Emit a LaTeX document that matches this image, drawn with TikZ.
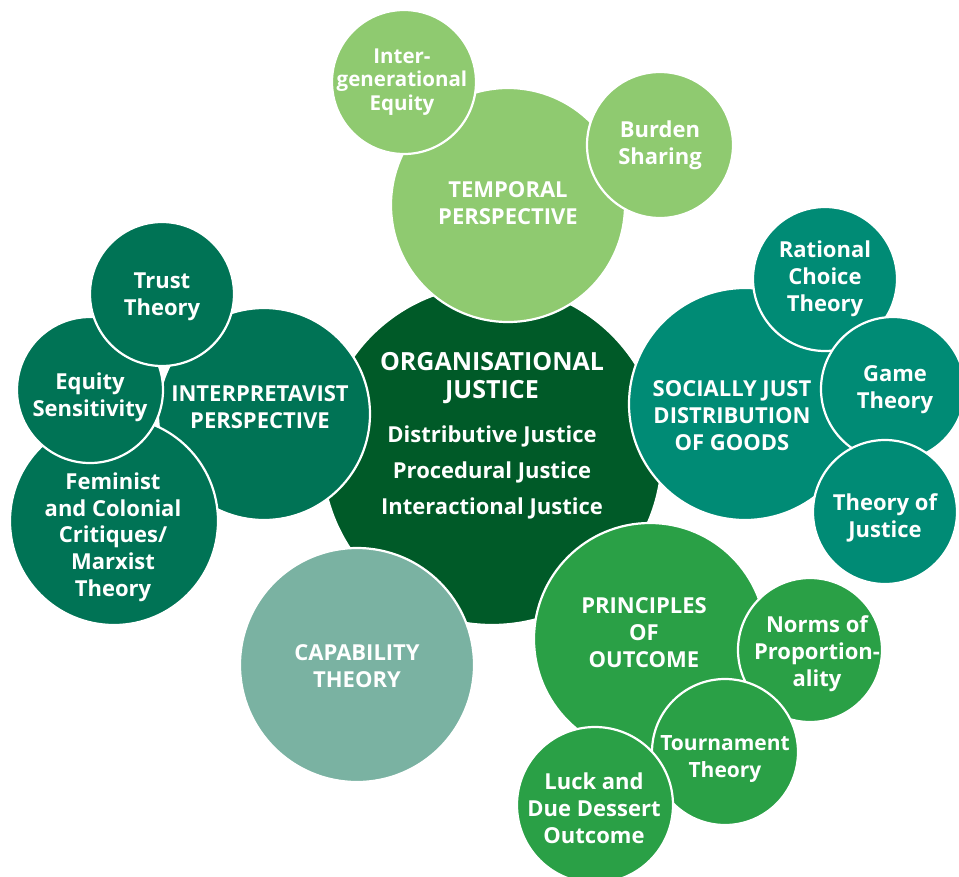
\documentclass[tikz,border=0pt]{standalone}
\usepackage{fontspec}
\setmainfont{Open Sans}
\definecolor{vertfonce}{RGB}{0,90,40}
\definecolor{vertinterp}{RGB}{0,115,85}
\definecolor{vertclair}{RGB}{143,202,112}
\definecolor{vertsocial}{RGB}{0,139,117}
\definecolor{vertprincipe}{RGB}{42,160,70}
\definecolor{vertcapa}{RGB}{122,178,162}

\begin{document}
\begin{tikzpicture}[x=1pt,y=-1pt]
    \tikzstyle{texte}=[text=white, align=center, inner sep=0pt, font=\bfseries\fontsize{22}{27}\selectfont]
    \tikzstyle{titre}=[texte, font=\bfseries\fontsize{22}{27}\selectfont]
\tikzset{bulle/.style={circle,draw=white,line width=2.2pt,fill=#1,inner sep=0pt},
bulle/.default={vertfonce}}
\useasboundingbox (0,0) rectangle (959,876);

\node[bulle, minimum size=340pt] (centre) at (492,455){};
\node[texte, font=\bfseries\fontsize{25}{28}\selectfont] (centre-titre) at (492,378){ORGANISATIONAL\\JUSTICE};
\node[texte, font=\bfseries\fontsize{22}{36}\selectfont] (centre-liste) at (492,472){Distributive Justice\\Procedural Justice\\Interactional Justice};

\node[bulle=vertinterp, minimum size=212pt] (interp) at (264,414){};
\node[titre] (interp-t) at (260,407){INTERPRETAVIST\\PERSPECTIVE};
\node[bulle=vertinterp, minimum size=208pt] (feministe) at (114,521){};
\node[texte, font=\bfseries\fontsize{22}{26.7}\selectfont] (feministe-t) at (113,537){Feminist\\and Colonial\\Critiques/\\Marxist\\Theory};
\node[bulle=vertinterp, minimum size=146pt] (equite) at (90,390){};
\node[texte] (equite-t) at (90,397){Equity\\Sensitivity};
\node[bulle=vertinterp, minimum size=144pt] (confiance) at (162,294){};
\node[texte] (confiance-t) at (162,297){Trust\\Theory};

\node[bulle=vertcapa, minimum size=234pt] (capa) at (357,665){};
\node[titre] (capa-t) at (357,666){CAPABILITY\\THEORY};

\node[bulle=vertclair, minimum size=234pt] (temporel) at (508,205){};
\node[titre] (temporel-t) at (508,203){TEMPORAL\\PERSPECTIVE};
\node[bulle=vertclair, minimum size=144pt] (intergen) at (404,82){};
\node[texte, font=\bfseries\fontsize{20.5}{23.5}\selectfont] (intergen-t) at (402,82){Inter-\\generational\\Equity};
\node[bulle=vertclair, minimum size=146pt] (fardeau) at (660,145){};
\node[texte] (fardeau-t) at (660,145){Burden\\Sharing};

\node[bulle=vertsocial, minimum size=232pt] (social) at (745,404){};
\node[titre] (social-t) at (732,416){SOCIALLY JUST\\DISTRIBUTION\\OF GOODS};
\node[bulle=vertsocial, minimum size=144pt] (rationnel) at (825,279){};
\node[texte] (rationnel-t) at (825,279){Rational\\Choice\\Theory};
\node[bulle=vertsocial, minimum size=144pt] (jeux) at (893,389){};
\node[texte] (jeux-t) at (895,390){Game\\Theory};
\node[bulle=vertsocial, minimum size=144pt] (justice) at (885,512){};
\node[texte] (justice-t) at (885,518){Theory of\\Justice};

\node[bulle=vertprincipe, minimum size=232pt] (principes) at (650,639){};
\node[titre] (principes-t) at (644,633){PRINCIPLES\\OF\\OUTCOME};
\node[bulle=vertprincipe, minimum size=144pt] (normes) at (810,650){};
\node[texte] (normes-t) at (817,654){Norms of\\Proportion-\\ality};
\node[bulle=vertprincipe, minimum size=146pt] (tournoi) at (725,752){};
\node[texte, font=\bfseries\fontsize{21}{27}\selectfont] (tournoi-t) at (725,759){Tournament\\Theory};
\node[bulle=vertprincipe, minimum size=156pt] (chance) at (595,805){};
\node[texte] (chance-t) at (594,808){Luck and\\Due Dessert\\Outcome};

  \end{tikzpicture}
\end{document}
